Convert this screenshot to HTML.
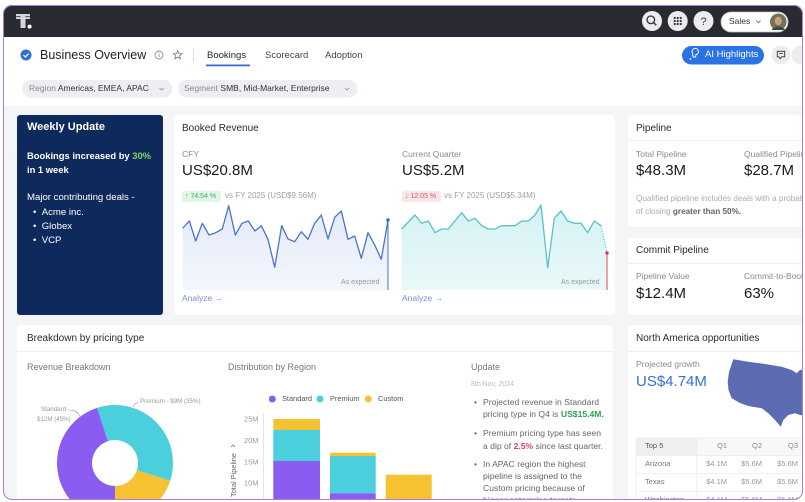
<!DOCTYPE html>
<html><head><meta charset="utf-8">
<style>
*{margin:0;padding:0;box-sizing:border-box}
html,body{width:805px;height:502px;overflow:hidden;background:#fff}
body{position:relative;font-family:"Liberation Sans",sans-serif}
.clip{position:absolute;left:0;top:0;width:805px;height:502px;clip-path:inset(5px 2px 2px 3px round 9px);background:#f4f5f7;overflow:hidden}
.a{position:absolute}
.t{position:absolute;white-space:nowrap;line-height:1}
.card{position:absolute;background:#fff;border-radius:4px}
.hl{position:absolute;height:1px;background:#eff0f2}
.g{color:#8a8a8a}
.w{color:#fff}
.h{color:#2a2a2a}
.frame{position:absolute;left:3px;top:5px;width:800px;height:495px;border:1.5px solid #ad7bd9;border-radius:9px;pointer-events:none}
</style></head><body>
<div class="clip">
  <!-- top bar -->
  <div class="a" style="left:0;top:0;width:805px;height:37px;background:#2a2a33"></div>
  <div class="a" style="left:0;top:37px;width:805px;height:69px;background:#fff"></div>

  <!-- cards -->
  <div class="card" style="left:17px;top:115px;width:146px;height:200px;background:#0e2a5c;border-radius:3px"></div>
  <div class="card" style="left:174px;top:115px;width:441px;height:200px"></div>
  <div class="card" style="left:628px;top:115px;width:190px;height:112px"></div>
  <div class="card" style="left:628px;top:238px;width:190px;height:77px"></div>
  <div class="card" style="left:17px;top:325px;width:596px;height:200px"></div>
  <div class="card" style="left:628px;top:325px;width:190px;height:200px"></div>
  <div class="hl" style="left:628px;top:140px;width:190px"></div>
  <div class="hl" style="left:628px;top:263px;width:190px"></div>
  <div class="hl" style="left:17px;top:351px;width:596px"></div>
  <div class="hl" style="left:628px;top:351px;width:190px"></div>

  <svg class="a" style="left:0;top:0" width="805" height="502" viewBox="0 0 805 502">
    <defs>
      <linearGradient id="gb" x1="0" y1="0" x2="0" y2="1">
        <stop offset="0" stop-color="#e3eaf8"/><stop offset="1" stop-color="#f3f6fc"/>
      </linearGradient>
      <linearGradient id="gt" x1="0" y1="0" x2="0" y2="1">
        <stop offset="0" stop-color="#d5f2f4"/><stop offset="1" stop-color="#e9f8f9"/>
      </linearGradient>
    </defs>
    <!-- logo -->
    <rect x="16" y="14" width="14" height="5" fill="#d4d4da"/>
    <rect x="16" y="16.3" width="14" height="0.8" fill="#2a2a33"/>
    <rect x="20.5" y="14" width="5" height="14" fill="#d4d4da"/>
    <circle cx="29.6" cy="26.6" r="2" fill="#fff"/>
    <!-- top icons -->
    <circle cx="652" cy="21" r="10" fill="#ececf0"/>
    <circle cx="650.8" cy="19.8" r="3.8" fill="none" stroke="#333" stroke-width="1.3"/>
    <line x1="653.5" y1="22.5" x2="656.3" y2="25.3" stroke="#333" stroke-width="1.4"/>
    <circle cx="677.7" cy="21" r="10" fill="#ececf0"/>
    <g fill="#333">
      <circle cx="674.7" cy="18" r="1.1"/><circle cx="677.7" cy="18" r="1.1"/><circle cx="680.7" cy="18" r="1.1"/>
      <circle cx="674.7" cy="21" r="1.1"/><circle cx="677.7" cy="21" r="1.1"/><circle cx="680.7" cy="21" r="1.1"/>
      <circle cx="674.7" cy="24" r="1.1"/><circle cx="677.7" cy="24" r="1.1"/><circle cx="680.7" cy="24" r="1.1"/>
    </g>
    <circle cx="703.5" cy="21" r="10" fill="#ececf0"/>
    <text x="703.5" y="25" font-size="11" text-anchor="middle" fill="#333" font-family="Liberation Sans">?</text>
    <rect x="721" y="12" width="67" height="20" rx="10" fill="#fff" stroke="#c4c4c8" stroke-width="0.8"/>
    <text x="729" y="24.2" font-size="8.5" fill="#333" font-family="Liberation Sans">Sales</text>
    <path d="M756 20.5 L758.3 22.8 L760.6 20.5" fill="none" stroke="#666" stroke-width="0.8"/>
    <circle cx="778.3" cy="21.8" r="8.3" fill="#6f7459"/>
    <ellipse cx="778.3" cy="21" rx="3.5" ry="4.2" fill="#c9a27c"/>
    <path d="M772 29 Q778.3 24 784.6 29 L784.6 30 L772 30Z" fill="#3f4a3a"/>

    <!-- header -->
    <circle cx="26" cy="55" r="5.5" fill="#2d6fdc"/>
    <path d="M23.5 55.2 L25.4 57 L28.6 53.6" fill="none" stroke="#fff" stroke-width="1.3"/>
    <circle cx="159" cy="55" r="4" fill="none" stroke="#8c8c8c" stroke-width="0.9"/>
    <rect x="158.6" y="54" width="0.9" height="3" fill="#8c8c8c"/>
    <circle cx="159" cy="52.8" r="0.5" fill="#8c8c8c"/>
    <polygon points="177.7,50.5 178.9,53.6 182.1,53.7 179.6,55.7 180.5,58.8 177.7,57 174.9,58.8 175.8,55.7 173.3,53.7 176.5,53.6" fill="none" stroke="#777" stroke-width="0.8"/>
    <rect x="193" y="49" width="1" height="13" fill="#dcdcdf"/>
    <rect x="206" y="64.5" width="44" height="1.8" fill="#3d6bd1"/>
    <rect x="682" y="46" width="82" height="18.5" rx="9.25" fill="#2b73e4"/>
    <path d="M692 51.5 a3.2 3.2 0 1 1 4 3.2 l-0.4 2.3 h-2.4z" fill="none" stroke="#fff" stroke-width="1"/>
    <circle cx="690.5" cy="59" r="0.9" fill="#fff"/>
    <circle cx="781" cy="55" r="9.5" fill="#ededf0"/>
    <path d="M777.3 51.3 h7.4 v5.5 h-3 l-1.5 1.8 l-1.4 -1.8 h-1.5z" fill="none" stroke="#333" stroke-width="0.9"/>
    <line x1="779" y1="53.5" x2="783" y2="53.5" stroke="#333" stroke-width="0.7"/>
    <circle cx="801" cy="55" r="9.5" fill="#ededf0"/>
    <!-- filter pills -->
    <rect x="22" y="80" width="150.5" height="17.5" rx="8.75" fill="#eceef1"/>
    <rect x="178" y="80" width="179.5" height="17.5" rx="8.75" fill="#eceef1"/>
    <path d="M159.5 88 L161.6 90 L163.7 88" fill="none" stroke="#888" stroke-width="0.8"/>
    <path d="M345 88 L347.1 90 L349.2 88" fill="none" stroke="#888" stroke-width="0.8"/>

    <!-- booked revenue chart (CFY) -->
    <path d="M182.7,228.3 L189.3,221 L195.7,241 L202.3,223.3 L209,235 L215.7,232.7 L222.3,229 L228.7,205.7 L235.3,235 L242,223.3 L248.3,221 L255,231 L261.3,225.7 L268,239.3 L274.7,267.3 L281.7,225.7 L288,239 L294.7,241.7 L301.3,231.7 L308,239.3 L314.7,223.3 L321.3,215 L328,239 L334.7,217.3 L341.3,211 L348,239.3 L354.7,236 L361.3,258.3 L368,232.7 L374.7,245 L381.3,259.3 L388,220 L388,290 L182.7,290Z" fill="url(#gb)"/>
    <polyline points="182.7,228.3 189.3,221 195.7,241 202.3,223.3 209,235 215.7,232.7 222.3,229 228.7,205.7 235.3,235 242,223.3 248.3,221 255,231 261.3,225.7 268,239.3 274.7,267.3 281.7,225.7 288,239 294.7,241.7 301.3,231.7 308,239.3 314.7,223.3 321.3,215 328,239 334.7,217.3 341.3,211 348,239.3 354.7,236 361.3,258.3 368,232.7 374.7,245 381.3,259.3 388,220" fill="none" stroke="#4a73cb" stroke-width="1.3" stroke-linejoin="round"/>
    <line x1="388" y1="220" x2="388" y2="290" stroke="#4a73cb" stroke-width="1"/>
    <circle cx="388" cy="220" r="1.7" fill="#3a62c0"/>

    <!-- current quarter chart -->
    <path d="M401.7,229 L415,215 L421.7,223.3 L428.3,221 L435,232.7 L441.7,229 L448.3,229 L461.7,212.7 L468.3,221 L475,218.3 L481.7,225.7 L488.3,229 L495,229 L501.7,225.7 L508.3,225.7 L515,225.7 L521.7,221 L528.3,221 L535,215 L541,205 L547.7,267.7 L554.3,218.3 L561,211 L567.7,221 L574.3,223.3 L581,223.3 L587.7,232.7 L594.3,221 L601,225.7 L607,253 L607,290 L401.7,290Z" fill="url(#gt)"/>
    <line x1="402" y1="277.5" x2="560" y2="277.5" stroke="#e4f4f5" stroke-width="1"/>
    <polyline points="401.7,229 415,215 421.7,223.3 428.3,221 435,232.7 441.7,229 448.3,229 461.7,212.7 468.3,221 475,218.3 481.7,225.7 488.3,229 495,229 501.7,225.7 508.3,225.7 515,225.7 521.7,221 528.3,221 535,215 541,205 547.7,267.7 554.3,218.3 561,211 567.7,221 574.3,223.3 581,223.3 587.7,232.7 594.3,221 601,225.7" fill="none" stroke="#55c3c9" stroke-width="1.3" stroke-linejoin="round"/>
    <line x1="601" y1="225.7" x2="607" y2="253" stroke="#55c3c9" stroke-width="1.1" stroke-dasharray="1.2 1.5"/>
    <line x1="607" y1="253" x2="607" y2="290" stroke="#e0485c" stroke-width="1"/>
    <circle cx="607" cy="253" r="1.7" fill="#d9334c"/>

    <!-- donut -->
    <path d="M97.08 407.84 A58 58 0 0 1 170.16 480.92 L136.87 470.11 A23 23 0 0 0 107.89 441.13Z" fill="#4ccfdc"/>
    <path d="M170.16 480.92 A58 58 0 0 1 115 521 L115 486 A23 23 0 0 0 136.87 470.11Z" fill="#f7c232"/>
    <path d="M115 521 A58 58 0 0 1 97.08 407.84 L107.89 441.13 A23 23 0 0 0 115 486Z" fill="#8a5cf0"/>
    <path d="M70 410.5 Q77 410 80 416.5" fill="none" stroke="#999" stroke-width="0.6"/>
    <path d="M133 407 Q134.5 403 138.5 402.5" fill="none" stroke="#999" stroke-width="0.6"/>

    <!-- bars -->
    <rect x="263" y="413" width="1" height="90" fill="#e4e4e7"/>
    <rect x="273.3" y="419" width="46.7" height="11" fill="#f7c232"/>
    <rect x="273.3" y="430" width="46.7" height="31" fill="#4ccfdc"/>
    <rect x="273.3" y="461" width="46.7" height="45" fill="#8a5cf0"/>
    <rect x="330" y="452.7" width="45.7" height="3.3" fill="#f7c232"/>
    <rect x="330" y="456" width="45.7" height="37.3" fill="#4ccfdc"/>
    <rect x="330" y="493.3" width="45.7" height="15" fill="#8a5cf0"/>
    <rect x="385.7" y="474.7" width="46" height="30" fill="#f7c232"/>
    <circle cx="272.3" cy="399" r="3.5" fill="#8a5cf0"/>
    <circle cx="320" cy="399" r="3.5" fill="#4ccfdc"/>
    <circle cx="368.3" cy="399" r="3.5" fill="#f7c232"/>
    <g font-family="Liberation Sans" font-size="7.5" fill="#9a9a9a" text-anchor="end">
      <text x="258.5" y="421.7">25M</text>
      <text x="258.5" y="443">20M</text>
      <text x="258.5" y="464.4">15M</text>
      <text x="258.5" y="485.4">10M</text>
    </g>
    <text transform="translate(236,497) rotate(-90)" font-family="Liberation Sans" font-size="7.4" fill="#666">Total Pipeline</text>
    <path d="M231.5 443.5 L233.5 445.5 L231.5 447.5" fill="none" stroke="#777" stroke-width="0.8" transform="rotate(-90 233 445.5)"/>

    <!-- US map -->
    <path d="M733.3,359.3 L748.3,361.7 L765,364 L781.7,366.7 L791.7,370 L796.7,373.3 L800,370 L806,369 L806,416 L800,415 L795,413.3 L788.3,415 L783.3,420 L780.7,426.7 L775,420 L768.3,413.3 L761.7,408.3 L748.3,406 L740,403 L731.7,398.3 L728.5,390 L727.7,381.7 L729,372 Z" fill="#5d6bb3"/>

    <!-- table -->
    <rect x="636" y="438" width="61" height="17" fill="#efeff1"/>
    <rect x="697" y="438" width="110" height="17" fill="#f8f8f9"/>
    <g fill="#ececee">
      <rect x="636" y="455" width="170" height="0.8"/>
      <rect x="636" y="473" width="170" height="0.8"/>
      <rect x="636" y="491" width="170" height="0.8"/>
      <rect x="696.5" y="438" width="0.8" height="70"/>
      <rect x="635.5" y="438" width="0.8" height="70"/>
      <rect x="636" y="437.5" width="170" height="0.8"/>
    </g>
  </svg>

  <!-- header text -->
  <div class="t" style="left:40px;top:48.5px;font-size:12.5px;color:#1f1f24">Business Overview</div>
  <div class="t" style="left:207px;top:51px;font-size:9.5px;color:#222">Bookings</div>
  <div class="t" style="left:265px;top:51px;font-size:9.5px;color:#444">Scorecard</div>
  <div class="t" style="left:325px;top:51px;font-size:9.5px;color:#444">Adoption</div>
  <div class="t w" style="left:705px;top:50px;font-size:9.5px">AI Highlights</div>
  <div class="t" style="left:29px;top:84px;font-size:8.5px"><span style="color:#8a8a8a">Region</span> <span style="color:#333">Americas, EMEA, APAC</span></div>
  <div class="t" style="left:184px;top:84px;font-size:8.5px"><span style="color:#8a8a8a">Segment</span> <span style="color:#333">SMB, Mid-Market, Enterprise</span></div>

  <!-- weekly update -->
  <div class="t w" style="left:27px;top:122.3px;font-size:11px;font-weight:bold">Weekly Update</div>
  <div class="t w" style="left:27px;top:151px;font-size:9.4px;font-weight:bold">Bookings increased by <span style="color:#7fd95a">30%</span></div>
  <div class="t w" style="left:27px;top:165px;font-size:9.4px;font-weight:bold">in 1 week</div>
  <div class="t w" style="left:27px;top:193.4px;font-size:9.6px">Major contributing deals -</div>
  <div class="t w" style="left:33px;top:207.8px;font-size:9.6px">•&nbsp;&nbsp;Acme inc.</div>
  <div class="t w" style="left:33px;top:222.4px;font-size:9.6px">•&nbsp;&nbsp;Globex</div>
  <div class="t w" style="left:33px;top:236px;font-size:9.6px">•&nbsp;&nbsp;VCP</div>

  <!-- booked revenue -->
  <div class="t h" style="left:182px;top:123.8px;font-size:10px">Booked Revenue</div>
  <div class="t g" style="left:182px;top:149.6px;font-size:8.5px">CFY</div>
  <div class="t" style="left:182px;top:163.2px;font-size:15px;color:#1a1a1a">US$20.8M</div>
  <div class="a" style="left:182px;top:191px;width:39px;height:10.5px;background:#e1f6e6;border-radius:2px"></div>
  <div class="t" style="left:185px;top:192.6px;font-size:7px;color:#3fae62">↑ 74.54 %</div>
  <div class="t" style="left:225px;top:191.8px;font-size:8px;color:#a0a0a0">vs FY 2025 (USD$9.56M)</div>
  <div class="t" style="left:341px;top:279.4px;font-size:7px;color:#9a9a9a">As expected</div>
  <div class="t" style="left:182px;top:293.6px;font-size:8.5px;color:#7b8fd6">Analyze →</div>

  <div class="t g" style="left:402px;top:149.6px;font-size:8.5px">Current Quarter</div>
  <div class="t" style="left:402px;top:163.2px;font-size:15px;color:#1a1a1a">US$5.2M</div>
  <div class="a" style="left:402px;top:191px;width:39px;height:10.5px;background:#fde5e8;border-radius:2px"></div>
  <div class="t" style="left:405px;top:192.6px;font-size:7px;color:#e0526a">↓ 12.05 %</div>
  <div class="t" style="left:444px;top:191.8px;font-size:8px;color:#a0a0a0">vs FY 2025 (USD$5.34M)</div>
  <div class="t" style="left:561px;top:279.4px;font-size:7px;color:#9a9a9a">As expected</div>
  <div class="t" style="left:402px;top:293.6px;font-size:8.5px;color:#7b8fd6">Analyze →</div>

  <!-- pipeline -->
  <div class="t h" style="left:636px;top:123.8px;font-size:10px">Pipeline</div>
  <div class="t g" style="left:636px;top:149.6px;font-size:8.5px">Total Pipeline</div>
  <div class="t g" style="left:744px;top:149.6px;font-size:8.5px">Qualified Pipeline</div>
  <div class="t" style="left:636px;top:163.2px;font-size:15px;color:#1a1a1a">$48.3M</div>
  <div class="t" style="left:744px;top:163.2px;font-size:15px;color:#1a1a1a">$28.7M</div>
  <div class="t" style="left:636px;top:194.7px;font-size:8.2px;color:#ababab">Qualified pipeline includes deals with a probability</div>
  <div class="t" style="left:636px;top:207.7px;font-size:8.2px;color:#ababab">of closing <span style="color:#666;font-weight:bold">greater than 50%.</span></div>

  <div class="t h" style="left:636px;top:245.8px;font-size:10px">Commit Pipeline</div>
  <div class="t g" style="left:636px;top:271.6px;font-size:8.5px">Pipeline Value</div>
  <div class="t g" style="left:744px;top:271.6px;font-size:8.5px">Commit-to-Booking</div>
  <div class="t" style="left:636px;top:285.7px;font-size:15px;color:#1a1a1a">$12.4M</div>
  <div class="t" style="left:744px;top:285.7px;font-size:15px;color:#1a1a1a">63%</div>

  <!-- breakdown -->
  <div class="t h" style="left:27px;top:333.8px;font-size:10px">Breakdown by pricing type</div>
  <div class="t" style="left:27px;top:363.3px;font-size:9px;color:#777">Revenue Breakdown</div>
  <div class="t" style="left:228px;top:363.3px;font-size:9px;color:#777">Distribution by Region</div>
  <div class="t" style="left:471px;top:363.3px;font-size:9px;color:#777">Update</div>
  <div class="t" style="left:471px;top:381.4px;font-size:7px;color:#bbb">8th Nov, 2024</div>
  <div class="t" style="left:41px;top:406.8px;font-size:6.2px;color:#999">Standard -</div>
  <div class="t" style="left:37px;top:416.8px;font-size:6.2px;color:#999">$12M (45%)</div>
  <div class="t" style="left:140px;top:399.1px;font-size:6.2px;color:#999">Premium - $9M (35%)</div>
  <div class="t" style="left:282px;top:394.8px;font-size:7.4px;color:#555">Standard</div>
  <div class="t" style="left:330px;top:394.8px;font-size:7.4px;color:#555">Premium</div>
  <div class="t" style="left:378px;top:394.8px;font-size:7.4px;color:#555">Custom</div>

  <div style="position:absolute;left:474px;top:0;font-size:8.6px;color:#666">
    <div class="t" style="left:0;top:397.5px">•</div>
    <div class="t" style="left:9px;top:397.5px">Projected revenue in Standard</div>
    <div class="t" style="left:9px;top:409.5px">pricing type in Q4 is <span style="color:#2e9f5a;font-weight:bold">US$15.4M.</span></div>
    <div class="t" style="left:0;top:428.5px">•</div>
    <div class="t" style="left:9px;top:428.5px">Premium pricing type has seen</div>
    <div class="t" style="left:9px;top:441.5px">a dip of <span style="color:#d9445c;font-weight:bold">2.5%</span> since last quarter.</div>
    <div class="t" style="left:0;top:459.5px">•</div>
    <div class="t" style="left:9px;top:459.5px">In APAC region the highest</div>
    <div class="t" style="left:9px;top:471.5px">pipeline is assigned to the</div>
    <div class="t" style="left:9px;top:483.5px">Custom pricing because of</div>
    <div class="t" style="left:9px;top:495.5px">bigger enterprise targets</div>
  </div>

  <!-- north america -->
  <div class="t h" style="left:636px;top:333.8px;font-size:10px">North America opportunities</div>
  <div class="t g" style="left:636px;top:359.6px;font-size:8.5px">Projected growth</div>
  <div class="t" style="left:636px;top:374.2px;font-size:15px;color:#3b6fd4">US$4.74M</div>
  <div class="t" style="left:645px;top:442.1px;font-size:7.5px;color:#555">Top 5</div>
  <div class="t" style="right:78px;top:442.1px;font-size:7.5px;color:#888">Q1</div>
  <div class="t" style="right:43px;top:442.1px;font-size:7.5px;color:#888">Q2</div>
  <div class="t" style="right:7px;top:442.1px;font-size:7.5px;color:#888">Q3</div>
  <div class="t" style="left:645px;top:460.1px;font-size:7.5px;color:#777">Arizona</div>
  <div class="t" style="left:645px;top:478.1px;font-size:7.5px;color:#777">Texas</div>
  <div class="t" style="left:645px;top:495.6px;font-size:7.5px;color:#777">Washington</div>
  <div class="t" style="right:78px;top:460.1px;font-size:7.5px;color:#999">$4.1M</div>
  <div class="t" style="right:43px;top:460.1px;font-size:7.5px;color:#999">$5.6M</div>
  <div class="t" style="right:7px;top:460.1px;font-size:7.5px;color:#999">$5.6M</div>
  <div class="t" style="right:78px;top:478.1px;font-size:7.5px;color:#999">$4.1M</div>
  <div class="t" style="right:43px;top:478.1px;font-size:7.5px;color:#999">$5.6M</div>
  <div class="t" style="right:7px;top:478.1px;font-size:7.5px;color:#999">$5.6M</div>
  <div class="t" style="right:78px;top:495.6px;font-size:7.5px;color:#999">$4.1M</div>
  <div class="t" style="right:43px;top:495.6px;font-size:7.5px;color:#999">$5.6M</div>
  <div class="t" style="right:7px;top:495.6px;font-size:7.5px;color:#999">$5.6M</div>
</div>
<div class="frame"></div>
</body></html>
